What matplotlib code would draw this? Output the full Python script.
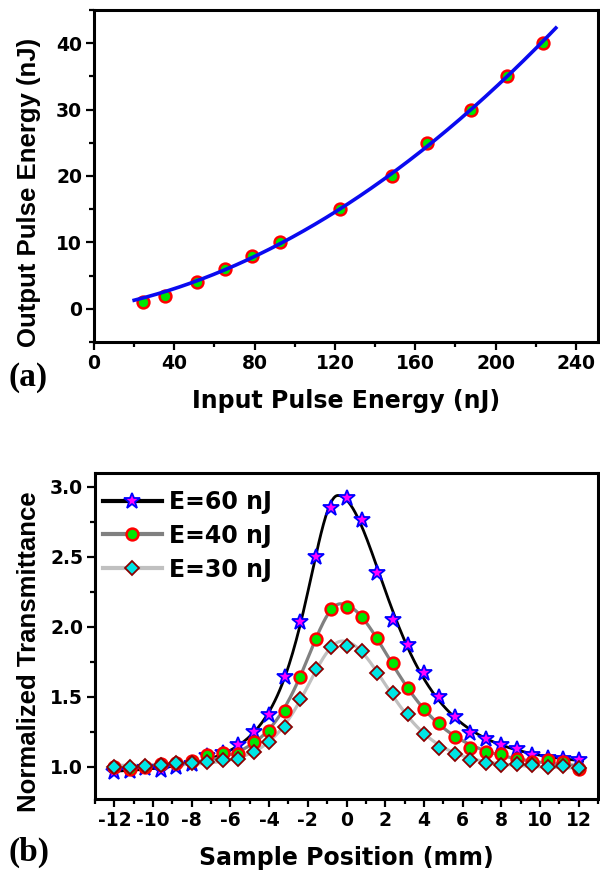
import numpy as np
import matplotlib
matplotlib.use("Agg")
import matplotlib.pyplot as plt
from matplotlib.lines import Line2D
from matplotlib.ticker import MultipleLocator, FormatStrFormatter

plt.rcParams["axes.unicode_minus"] = False

# ---------------- data: panel (a) ----------------
input_energy = [24.4, 35.2, 51.2, 65.3, 78.5, 92.6, 122.5, 148.2, 165.7, 187.6, 205.7, 223.4]
output_energy = [1, 2, 4, 6, 8, 10, 15, 20, 25, 30, 35, 40]
fit_a_range = [20, 230]

# ---------------- data: panel (b) ----------------
position = [-12, -11.2, -10.4, -9.6, -8.8, -8, -7.2, -6.4, -5.6, -4.8, -4, -3.2, -2.4, -1.6, -0.8,
            0, 0.8, 1.6, 2.4, 3.2, 4, 4.8, 5.6, 6.4, 7.2, 8, 8.8, 9.6, 10.4, 11.2, 12]
t_60 = [0.964, 0.97, 0.99, 0.976, 0.995, 1.017, 1.08, 1.095, 1.157, 1.248, 1.373, 1.643, 2.035, 2.495, 2.85,
        2.92, 2.76, 2.38, 2.046, 1.866, 1.67, 1.5, 1.357, 1.242, 1.2, 1.154, 1.124, 1.083, 1.06, 1.058, 1.046]
t_40 = [0.995, 0.983, 0.998, 1.019, 1.03, 1.043, 1.083, 1.095, 1.092, 1.174, 1.255, 1.4, 1.643, 1.91, 2.128,
        2.137, 2.068, 1.922, 1.74, 1.56, 1.41, 1.31, 1.214, 1.131, 1.105, 1.09, 1.052, 1.036, 1.048, 1.036, 0.983]
t_30 = [1.0, 1.0, 1.007, 1.012, 1.029, 1.029, 1.036, 1.048, 1.055, 1.107, 1.179, 1.286, 1.483, 1.695, 1.857,
        1.864, 1.824, 1.667, 1.524, 1.376, 1.233, 1.131, 1.088, 1.048, 1.024, 1.01, 1.019, 1.012, 1.0, 1.007, 0.993]
labels_b = ["E=60 nJ", "E=40 nJ", "E=30 nJ"]
fit_b_range = [-12.2, 12.2]


def origin_quadratic_fit(x, y, xs):
    x = np.asarray(x, float)
    A = np.column_stack([x, x ** 2])
    coef = np.linalg.lstsq(A, np.asarray(y, float), rcond=None)[0]
    return coef[0] * xs + coef[1] * xs ** 2


def peak_fit(x, y, xs):
    """Least-squares fit of an asymmetric Pearson-VII-like peak on a sloped baseline."""
    x = np.asarray(x, float)
    y = np.asarray(y, float)
    zls = np.arange(0.8, 6.001, 0.1)
    zrs = np.arange(0.8, 7.001, 0.1)
    ZL, ZR = np.meshgrid(zls, zrs, indexing="ij")
    ZL, ZR = ZL.ravel(), ZR.ravel()

    def feat(t, x0, zl, zr, p):
        d = t[None, :] - x0
        z = np.where(d < 0, zl[:, None], zr[:, None])
        return 1.0 / (1.0 + (d / z) ** 2) ** p

    best = None
    for p in [1.0, 1.25, 1.5, 2.0, 2.5, 3.0]:
        for x0 in np.arange(-1.0, 1.001, 0.05):
            F = feat(x, x0, ZL, ZR, p)
            ones = np.ones_like(F)
            xx = np.broadcast_to(x, F.shape)
            B = np.stack([ones, xx, F], axis=2)
            BtB = np.einsum("nik,nil->nkl", B, B)
            Bty = np.einsum("nik,i->nk", B, y)
            coef = np.linalg.solve(BtB, Bty[..., None])[..., 0]
            res = np.sum((np.einsum("nik,nk->ni", B, coef) - y) ** 2, axis=1)
            k = int(np.argmin(res))
            if best is None or res[k] < best[0]:
                best = (res[k], p, x0, ZL[k], ZR[k], coef[k])
    _, p, x0, zl, zr, c = best
    f = feat(xs, x0, np.array([zl]), np.array([zr]), p)[0]
    return c[0] + c[1] * xs + c[2] * f


SANS_H = "DejaVu Sans"
SANS_V = "Liberation Sans"
SERIF = "Liberation Serif"
TICK_FS = 13.5

fig = plt.figure(figsize=(6, 8.75), dpi=100)
W, H = 600.0, 875.0


def axes_px(l, r, t, b):
    return fig.add_axes([l / W, 1 - b / H, (r - l) / W, (b - t) / H])


def style_axes(ax):
    for s in ax.spines.values():
        s.set_linewidth(2.2)
    ax.tick_params(which="both", direction="out", top=False, right=False, width=1.6,
                   labelsize=TICK_FS, pad=2.5)
    ax.tick_params(which="major", length=6)
    ax.tick_params(which="minor", length=3.5)
    for lab in ax.get_xticklabels() + ax.get_yticklabels():
        lab.set_fontfamily(SANS_H)
        lab.set_fontweight("bold")


# ---------------- panel (a) ----------------
axa = axes_px(94, 598, 10, 342)
xa = np.linspace(fit_a_range[0], fit_a_range[1], 300)
axa.plot(input_energy, output_energy, linestyle="none", marker="o", markersize=8.5,
         markerfacecolor="#00e600", markeredgecolor="#ff0000", markeredgewidth=1.8, zorder=2)
axa.plot(xa, origin_quadratic_fit(input_energy, output_energy, xa), color="#0a0af0",
         linewidth=2.6, zorder=3)
axa.set_xlim(0, 251)
axa.set_ylim(-5, 45)
axa.xaxis.set_major_locator(MultipleLocator(40))
axa.xaxis.set_minor_locator(MultipleLocator(20))
axa.yaxis.set_major_locator(MultipleLocator(10))
axa.yaxis.set_minor_locator(MultipleLocator(5))
style_axes(axa)

fig.text(346 / W, 1 - 401 / H, "Input Pulse Energy (nJ)", ha="center", va="center",
         fontsize=17, fontweight="bold", family=SANS_H)
fig.text(29 / W, 1 - 192 / H, "Output Pulse Energy (nJ)", ha="center", va="center", rotation=90,
         fontsize=18.5, fontweight="bold", family=SANS_V)
fig.text(28 / W, 1 - 378 / H, "(a)", ha="center", va="center", fontsize=24,
         fontweight="bold", family=SERIF)

# ---------------- panel (b) ----------------
axb = axes_px(95, 598, 472.5, 799)
xs = np.linspace(fit_b_range[0], fit_b_range[1], 400)
series = [
    (t_60, "#000000", 2.0, dict(marker="*", markersize=12, markerfacecolor="#ff00ff",
                                markeredgecolor="#0000ff", markeredgewidth=1.3)),
    (t_40, "#808080", 2.3, dict(marker="o", markersize=8.5, markerfacecolor="#00e600",
                                markeredgecolor="#ff0000", markeredgewidth=1.8)),
    (t_30, "#c0c0c0", 2.3, dict(marker="D", markersize=7, markerfacecolor="#00e5e5",
                                markeredgecolor="#8b0000", markeredgewidth=1.3)),
]
handles = []
for i, (yv, col, lw, mk) in enumerate(series):
    axb.plot(xs, peak_fit(position, yv, xs), color=col, linewidth=lw, zorder=2)
for i, (yv, col, lw, mk) in enumerate(series):
    axb.plot(position, yv, linestyle="none", zorder=3 + i, **mk)
    handles.append(Line2D([], [], color=col, linewidth=3.0, **mk))

axb.set_xlim(-13, 13)
axb.set_ylim(0.77, 3.1)
axb.xaxis.set_major_locator(MultipleLocator(2))
axb.xaxis.set_minor_locator(MultipleLocator(1))
axb.yaxis.set_major_locator(MultipleLocator(0.5))
axb.yaxis.set_minor_locator(MultipleLocator(0.25))
axb.yaxis.set_major_formatter(FormatStrFormatter("%.1f"))
style_axes(axb)

leg = axb.legend(handles, labels_b, loc="upper left", bbox_to_anchor=(0.015, 0.947),
                 frameon=False, borderpad=0, borderaxespad=0, handlelength=2.5,
                 handletextpad=0.32, labelspacing=0.42, numpoints=1,
                 prop=dict(family=SANS_H, weight="bold", size=17))

fig.text(346 / W, 1 - 858 / H, "Sample Position (mm)", ha="center", va="center",
         fontsize=17, fontweight="bold", family=SANS_H)
fig.text(29 / W, 1 - 652 / H, "Normalized Transmittance", ha="center", va="center", rotation=90,
         fontsize=18.5, fontweight="bold", family=SANS_V)
fig.text(28.5 / W, 1 - 852 / H, "(b)", ha="center", va="center", fontsize=24,
         fontweight="bold", family=SERIF)

fig.savefig("out.png", dpi=100)
